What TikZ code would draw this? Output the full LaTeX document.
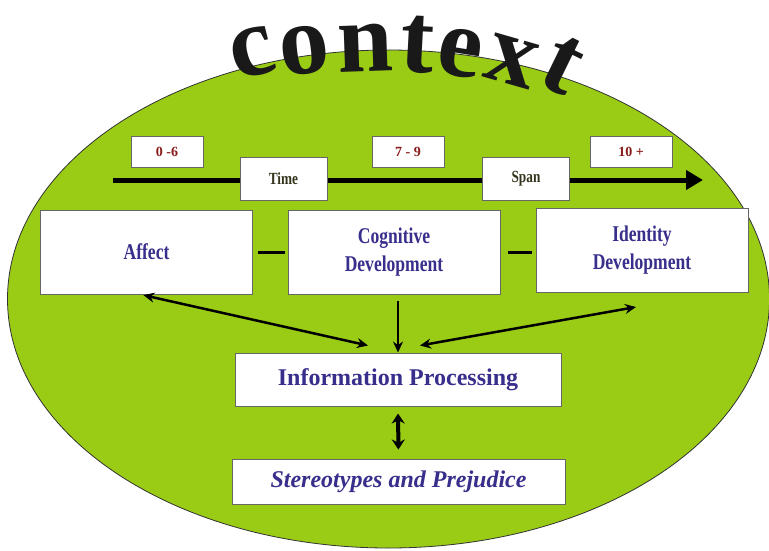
\documentclass[tikz,border=0pt]{standalone}
\usepackage{fontspec}
\setmainfont{Liberation Serif}
\newfontfamily\narrowfont[FakeStretch=0.78]{Liberation Serif}
\usetikzlibrary{arrows.meta}
\definecolor{fieldGreen}{RGB}{154,204,22}
\definecolor{labelBlue}{RGB}{56,46,140}
\definecolor{ageRed}{RGB}{138,28,28}
\definecolor{spanOlive}{RGB}{52,52,28}

\begin{document}
\begin{tikzpicture}
[x=1pt,y=-1pt,%
  boxDecorate/.style={draw=black!60,line width=1pt,fill=white,inner sep=0pt,align=center,text=labelBlue},%
  mainDecorate/.style={boxDecorate,minimum width=212pt,minimum height=84pt,font=\narrowfont\bfseries\fontsize{22.5}{28}\selectfont},%
  ageDecorate/.style={boxDecorate,minimum height=31pt,text=ageRed,font=\bfseries\fontsize{14}{16}\selectfont},%
  spanDecorate/.style={boxDecorate,minimum width=87pt,minimum height=43pt,text=spanOlive,font=\narrowfont\bfseries\fontsize{17}{20}\selectfont},%
  lineDecorate/.style={line width=2.5pt,{Stealth[length=11pt,width=10pt]}-{Stealth[length=11pt,width=10pt]}},%
  letterDecorate/.style={anchor=base,inner sep=0pt,font=\bfseries\fontsize{100}{100}\selectfont,text=black!90}]
\useasboundingbox (0,0) rectangle (769,550);
%% background field
\filldraw[fill=fieldGreen,draw=black!80,line width=0.8pt] (388.5,299) ellipse [x radius=381,y radius=249];
%% arched title, one letter at a time
\foreach \ch/\x/\y/\ang in {c/258/75/14, o/307/73/7, n/366/72/2, t/416/72/-3,
  e/456/76/-9, x/506/83/-16, t/550/90/-26}
{
  \node[letterDecorate,rotate=\ang] at (\x,\y) {\ch};
}
%% time line and its labels
\coordinate (tstart) at (113,180);
\coordinate (tend) at (703,180);
\draw[line width=5pt,-{Triangle[length=17pt,width=19pt]}] (tstart) -- (tend);
\node[spanDecorate] (time) at (283.5,178.5) {Time};
\node[spanDecorate] (span) at (526,178.5) {Span};
\foreach \nodename/\x/\w/\txt in {young/167/72/0 -6, middle/408/72/7 - 9, older/631/82/10 +}
{
  \node[ageDecorate,minimum width=\w pt] (\nodename) at (\x,151.5) {\txt};
}
%% main boxes
\node[mainDecorate] (affect) at (146.5,252) {Affect};
\node[mainDecorate] (cog) at (394,252) {Cognitive\\Development};
\node[mainDecorate] (identity) at (642,250.5) {Identity\\Development};
\node[boxDecorate,minimum width=326pt,minimum height=53pt,font=\bfseries\fontsize{24}{28}\selectfont] (info) at (398,379.5) {Information Processing};
\node[boxDecorate,minimum width=333pt,minimum height=45pt,font=\bfseries\itshape\fontsize{24}{28}\selectfont] (stereo) at (398.5,481.5) {Stereotypes and Prejudice};
%% connect boxes
\draw[line width=3pt,shorten <=5pt,shorten >=3pt] (affect.east) -- (cog.west);
\draw[line width=3pt,shorten <=7pt,shorten >=4pt] (cog.east) -- (cog.east -| identity.west);
\draw[lineDecorate,shorten <=3pt] ([xshift=-6pt]affect.south) -- ([xshift=-30pt,yshift=7pt]info.north);
\draw[line width=2.5pt,-{Stealth[length=11pt,width=10pt]},shorten <=6pt] (info.north |- cog.south) -- (info.north);
\draw[lineDecorate] ([xshift=22pt,yshift=7pt]info.north) -- ([xshift=-6pt,yshift=-14pt]identity.south);
\draw[line width=4pt,{Stealth[length=10pt,width=13pt]}-{Stealth[length=10pt,width=13pt]},shorten <=7pt,shorten >=9pt] (info.south) -- (stereo.north);
\end{tikzpicture}
\end{document}
